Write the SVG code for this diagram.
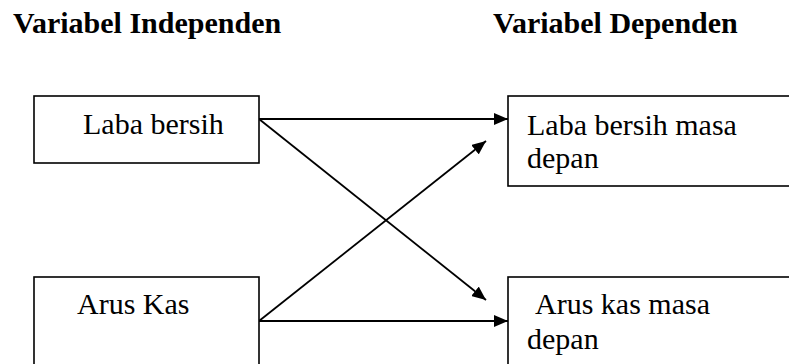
<svg xmlns="http://www.w3.org/2000/svg" width="789" height="364" viewBox="0 0 789 364">
<style>
.box{fill:#fff;stroke:#000;stroke-width:1.6}
.t{font-family:"Liberation Serif","Times New Roman",serif;font-size:30px;fill:#000}
.h{font-family:"Liberation Serif","Times New Roman",serif;font-size:30px;font-weight:bold;fill:#000}
.c{stroke:#000;stroke-width:1.8;fill:none;marker-end:url(#ah)}
</style>
<defs>
<marker id="ah" viewBox="0 0 14 12" refX="14" refY="6" markerWidth="14" markerHeight="12" markerUnits="userSpaceOnUse" orient="auto">
<path d="M0,0 L14,6 L0,12 Z" fill="#000"/>
</marker>
</defs>
<rect width="789" height="364" fill="#fff"/>
<text class="h" x="13" y="33">Variabel Independen</text>
<text class="h" x="493" y="33">Variabel Dependen</text>
<g id="connectors">
<line class="c" x1="259" y1="119" x2="508" y2="119"/>
<line class="c" x1="259" y1="119" x2="486" y2="300"/>
<line class="c" x1="259" y1="321" x2="486" y2="141"/>
<line class="c" x1="259" y1="321" x2="508" y2="321"/>
</g>
<g id="laba-bersih">
<rect class="box" x="34" y="96" width="225" height="67"/>
<text class="t" x="83" y="134">Laba bersih</text>
</g>
<g id="arus-kas">
<rect class="box" x="34" y="277" width="225" height="100"/>
<text class="t" x="77" y="314">Arus Kas</text>
</g>
<g id="laba-bersih-masa-depan">
<rect class="box" x="508" y="96" width="300" height="90"/>
<text class="t" x="527" y="135">Laba bersih masa</text>
<text class="t" x="527" y="168">depan</text>
</g>
<g id="arus-kas-masa-depan">
<rect class="box" x="508" y="277" width="300" height="100"/>
<text class="t" x="535" y="314">Arus kas masa</text>
<text class="t" x="527" y="349">depan</text>
</g>
</svg>
